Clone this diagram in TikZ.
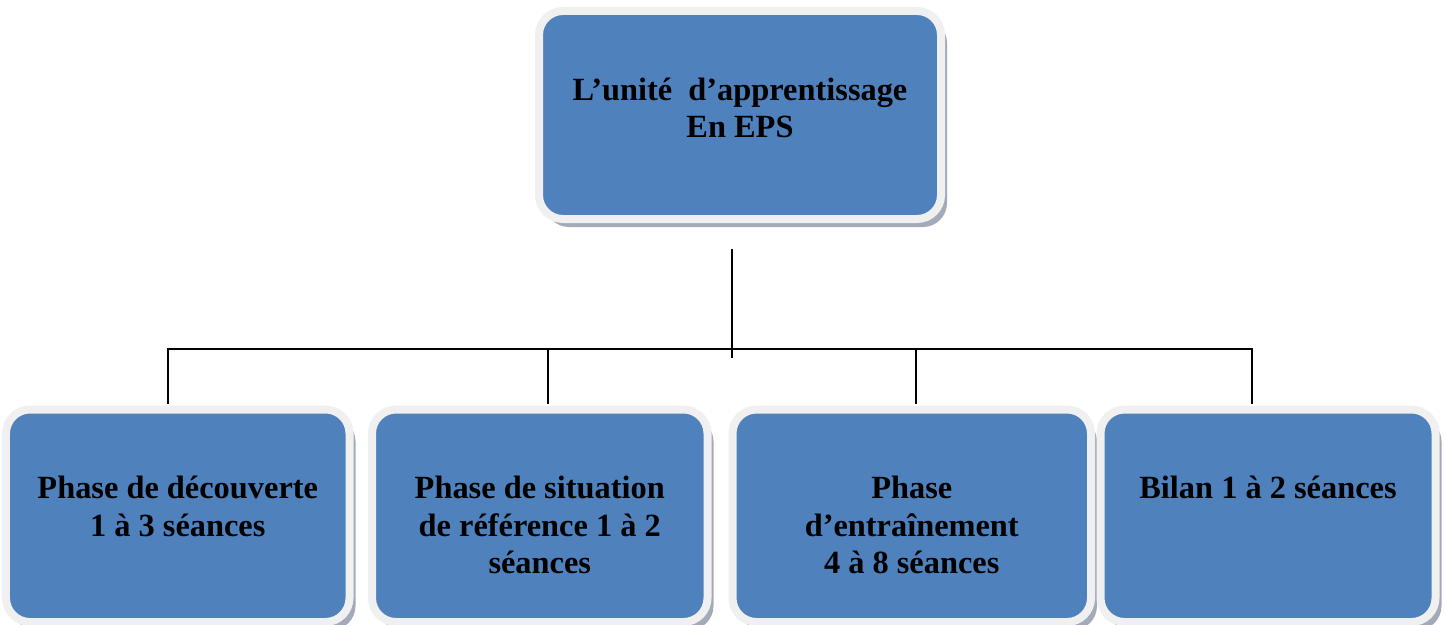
\documentclass[tikz,border=0pt]{standalone}
\usepackage{fontspec}
\setmainfont{Liberation Serif}
\usetikzlibrary{shadows}
\definecolor{boxFillColor}{HTML}{4F81BD}
\definecolor{boxFrameColor}{HTML}{F0F0F0}
\definecolor{boxShadowColor}{HTML}{A3ABB9}
\definecolor{linkColor}{HTML}{000000}
\newcommand{\firstStrut}{\rule{0pt}{30bp}}
\def\textUnit{\firstStrut L’unité~~d’apprentissage\\En EPS}
\def\textA{\firstStrut Phase de découverte\\1 à 3 séances}
\def\textB{\firstStrut Phase de situation\\de référence 1 à 2\\séances}
\def\textC{\firstStrut Phase\\d’entraînement\\4 à 8 séances}
\def\textD{\firstStrut Bilan 1 à 2 séances}
\tikzset{
  phasebox/.style={draw=boxFrameColor, line width=8bp, fill=boxFillColor,
    rounded corners=24bp, inner sep=0pt,
    drop shadow={fill=boxShadowColor, opacity=1, shadow xshift=6bp, shadow yshift=-8bp}},
  boxtext/.style={anchor=north, align=center, inner sep=0pt,
    font=\fontsize{32.5}{37.5}\selectfont\bfseries},
  link/.style={draw=linkColor, line width=1.6bp}
}

\begin{document}
\begin{tikzpicture}[x=1bp,y=-1bp]
\useasboundingbox (0,0) rectangle (1447,625);

% boxes
\node[phasebox, minimum width=402bp, minimum height=208bp] (unit) at (740,115) {};
\node[phasebox, minimum width=343.5bp, minimum height=212.5bp] (phaseA) at (177.75,515.75) {};
\node[phasebox, minimum width=335.5bp, minimum height=212.5bp] (phaseB) at (539.75,515.75) {};
\node[phasebox, minimum width=358.5bp, minimum height=212.5bp] (phaseC) at (911.75,515.75) {};
\node[phasebox, minimum width=335bp, minimum height=212.5bp] (phaseD) at (1268,515.75) {};

% texts (first baseline about 93bp below the box top)
\node[boxtext] (unitText) at ([yshift=-63bp]unit.north) {\textUnit};
\node[boxtext] (phaseAText) at ([yshift=-63bp]phaseA.north) {\textA};
\node[boxtext] (phaseBText) at ([yshift=-63bp]phaseB.north) {\textB};
\node[boxtext] (phaseCText) at ([yshift=-63bp]phaseC.north) {\textC};
\node[boxtext] (phaseDText) at ([yshift=-63bp]phaseD.north) {\textD};

% links
\coordinate (hubTop) at (732,249);
\coordinate (hub) at (732,358);
\foreach \x/\n in {168/A,548/B,916/C,1252/D} {
  \coordinate (dropTop\n) at (\x,349);
  \coordinate (dropEnd\n) at (\x,404);
}
\draw[link] (hubTop) -- (hub);
\draw[link] (dropEndA) -- (dropTopA) -- (dropTopD) -- (dropEndD);
\draw[link] (dropTopB) -- (dropEndB);
\draw[link] (dropTopC) -- (dropEndC);
\end{tikzpicture}
\end{document}
